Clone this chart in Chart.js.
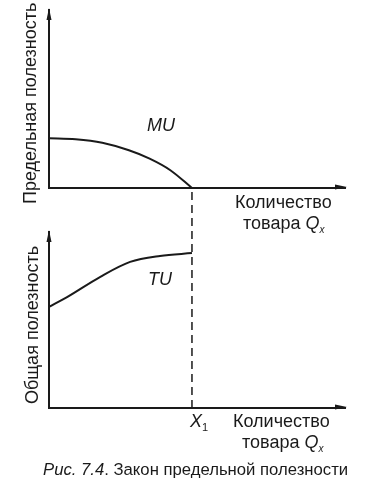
<!DOCTYPE html>
<html><head><meta charset="utf-8">
<script src="https://cdn.jsdelivr.net/npm/chart.js@4/dist/chart.umd.min.js"></script>
<style>
html,body{margin:0;padding:0;background:#fff;}
body{width:379px;height:497px;position:relative;overflow:hidden;font-family:"Liberation Sans",Arial,sans-serif;color:#1a1a1a;}
canvas{position:absolute;left:0;}
.t{position:absolute;white-space:nowrap;font-size:18px;line-height:18px;}
.i{font-style:italic;}
.rot{position:absolute;white-space:nowrap;font-size:18px;line-height:18px;transform-origin:0 0;transform:rotate(-90deg);}
sub{vertical-align:-4px;line-height:0;}
</style></head>
<body>
<div id="w1" style="position:absolute;left:0;top:0;width:379px;height:196px;"><canvas id="c1"></canvas></div>
<div id="w2" style="position:absolute;left:0;top:180px;width:379px;height:240px;"><canvas id="c2"></canvas></div>

<div class="rot" style="left:21px;top:204px;">Предельная полезность</div>
<div class="rot" style="left:23px;top:404px;">Общая полезность</div>
<div class="t i" style="left:147px;top:116px;">MU</div>
<div class="t i" style="left:148px;top:270px;">TU</div>
<div class="t" style="left:235px;top:193px;">Количество</div>
<div class="t" style="left:243px;top:214px;">товара <i>Q</i><sub style="font-size:10px;font-style:italic;">x</sub></div>
<div class="t i" style="left:190px;top:412px;">X<sub style="font-size:11px;font-style:normal;">1</sub></div>
<div class="t" style="left:233px;top:412px;">Количество</div>
<div class="t" style="left:242px;top:433px;">товара <i>Q</i><sub style="font-size:10px;font-style:italic;">x</sub></div>
<div class="t" style="left:43px;top:461px;font-size:16.7px;line-height:17px;"><i>Рис. 7.4</i>. Закон предельной полезности</div>

<script>
const X1 = 48.3;
const muX = [0, 9, 18, 27, 34, 41, X1];
const muY = [28, 27.4, 25.4, 21.2, 16.5, 10, 0];
const tuX = [0, 6.1, 17.2, 27.4, 37.5, X1];
const tuY = [57.4, 63, 74.4, 83, 86.4, 88];
const dashX = [X1, X1];
const dashY = [0, 125];

const ink = '#1a1a1a';
const arrows = {
  id: 'arrows',
  afterDraw(chart) {
    const {ctx, chartArea: a} = chart;
    ctx.save();
    ctx.fillStyle = ink;
    ctx.beginPath();
    ctx.moveTo(a.left, a.top - 2);
    ctx.lineTo(a.left - 2.5, a.top + 10);
    ctx.lineTo(a.left + 2.5, a.top + 10);
    ctx.closePath(); ctx.fill();
    ctx.beginPath();
    ctx.moveTo(a.right + 2, a.bottom - 1);
    ctx.lineTo(a.right - 10, a.bottom - 3.5);
    ctx.lineTo(a.right - 10, a.bottom + 1.5);
    ctx.closePath(); ctx.fill();
    ctx.restore();
  }
};

function pts(xs, ys) { return xs.map((x, i) => ({x, y: ys[i]})); }

function scales() {
  const ax = {
    type: 'linear', min: 0, max: 100,
    grid: {display: false, drawTicks: false},
    ticks: {display: false},
    border: {display: true, color: ink, width: 2}
  };
  return {x: {...ax, position: 'bottom'}, y: {...ax, position: 'left'}};
}

function make(id, datasets, pad) {
  return new Chart(document.getElementById(id), {
    type: 'scatter',
    data: {datasets},
    options: {
      responsive: true, maintainAspectRatio: false, animation: false,
      layout: {padding: pad},
      plugins: {legend: {display: false}, tooltip: {enabled: false}},
      elements: {point: {radius: 0}},
      scales: scales()
    },
    plugins: [arrows]
  });
}

make('c1', [{
  data: pts(muX, muY), showLine: true, borderColor: ink, borderWidth: 2,
  cubicInterpolationMode: 'monotone', pointRadius: 0
}], {left: 49, right: 34, top: 10, bottom: 8});

make('c2', [{
  data: pts(tuX, tuY), showLine: true, borderColor: ink, borderWidth: 2,
  cubicInterpolationMode: 'monotone', pointRadius: 0
}, {
  data: pts(dashX, dashY), showLine: true, borderColor: ink, borderWidth: 1.5,
  borderDash: [8, 5], pointRadius: 0, clip: false
}], {left: 49, right: 34, top: 52, bottom: 12});
</script>
</body></html>
